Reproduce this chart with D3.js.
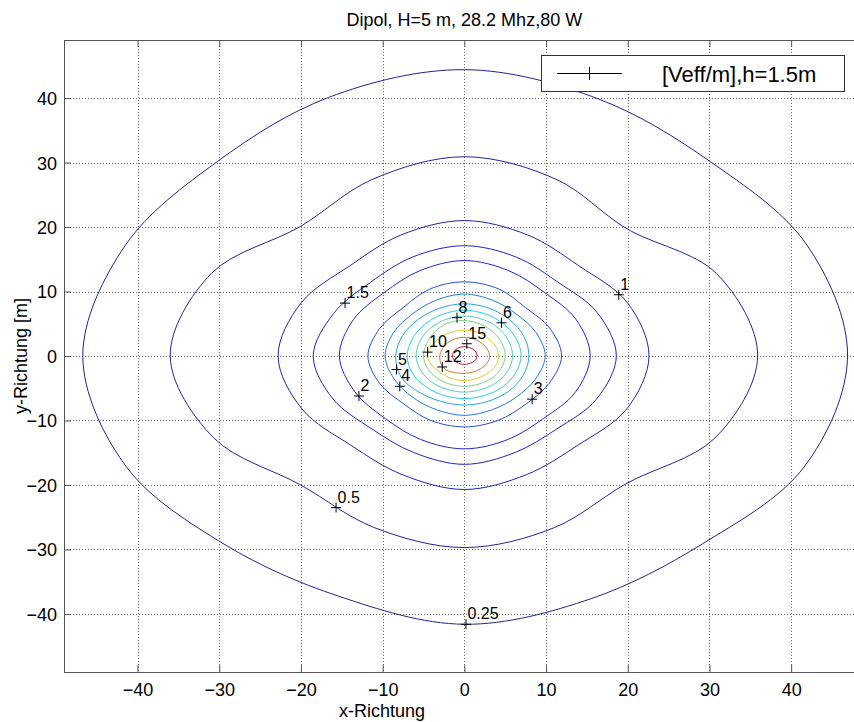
<!DOCTYPE html>
<html>
<head>
<meta charset="utf-8">
<script src="https://cdn.jsdelivr.net/npm/d3@7"></script>
<style>
  body { margin: 0; background: #fff; }
  svg text { font-family: "Liberation Sans", Arial, Helvetica, sans-serif; fill: #000; }
</style>
</head>
<body>
<div id="chart"></div>
<script>
const levels = [0.25, 0.5, 1, 1.5, 2, 3, 4, 5, 6, 7, 8, 10, 12, 15];
const angles = [0, 22.5, 45, 67.5, 90, 112.5, 135, 157.5, 180, 202.5, 225, 247.5, 270, 292.5, 315, 337.5];
const radii = [
  [46.9, 45.3, 42.6, 43.1, 44.4, 43.4, 42.7, 44.9, 46.7, 44.8, 41.4, 40.3, 41.6, 40.7, 41.2, 45.0],
  [35.9, 33.4, 28.0, 29.6, 30.9, 29.6, 28.4, 33.5, 36.0, 33.2, 28.3, 28.8, 29.7, 28.8, 28.0, 33.2],
  [22.6, 21.6, 19.8, 20.3, 21.0, 20.3, 19.8, 21.6, 22.8, 21.5, 19.6, 19.9, 20.7, 19.9, 19.6, 21.5],
  [18.6, 17.6, 16.2, 16.6, 17.1, 16.6, 16.2, 17.3, 18.5, 17.4, 16.0, 16.2, 16.8, 16.2, 16.0, 17.5],
  [15.4, 14.8, 13.9, 14.3, 14.8, 14.3, 13.9, 14.7, 15.3, 14.5, 13.7, 14.0, 14.4, 14.0, 13.7, 14.7],
  [11.9, 11.3, 10.6, 11.2, 11.5, 11.2, 10.6, 11.2, 11.8, 11.2, 10.5, 10.8, 11.0, 10.8, 10.6, 11.2],
  [9.9, 9.5, 9.1, 9.3, 9.6, 9.3, 9.1, 9.4, 9.7, 9.3, 9.0, 9.0, 9.2, 9.0, 9.0, 9.4],
  [7.9, 7.9, 7.9, 8.0, 8.1, 8.0, 8.0, 8.2, 8.4, 8.4, 7.9, 7.6, 7.6, 7.6, 7.7, 7.8],
  [6.95, 6.9, 6.9, 7.0, 7.1, 7.0, 6.9, 6.9, 7.0, 6.9, 6.7, 6.6, 6.6, 6.6, 6.7, 6.8],
  [5.9, 5.9, 6.0, 6.1, 6.2, 6.1, 6.0, 5.9, 5.9, 5.8, 5.7, 5.6, 5.6, 5.6, 5.7, 5.8],
  [5.0, 5.0, 5.1, 5.3, 5.5, 5.5, 5.2, 5.0, 5.0, 4.9, 4.8, 4.7, 4.7, 4.7, 4.8, 4.9],
  [4.2, 4.1, 4.0, 4.0, 4.0, 4.0, 4.1, 4.3, 4.5, 4.2, 3.9, 3.8, 3.8, 3.8, 3.9, 4.1],
  [3.1, 3.0, 2.9, 2.9, 2.9, 2.9, 2.9, 2.9, 3.0, 3.1, 3.1, 2.8, 2.7, 2.7, 2.8, 3.0],
  [1.55, 1.55, 1.5, 1.45, 1.45, 1.45, 1.45, 1.45, 1.45, 1.4, 1.35, 1.3, 1.3, 1.3, 1.4, 1.5]
];

// clabel markers
const labelText = ["0.25", "0.5", "1", "1.5", "2", "3", "4", "5", "6", "8", "10", "12", "15"];
const labelX = [0.2, -15.7, 18.9, -14.6, -12.9, 8.3, -7.9, -8.3, 4.55, -0.9, -4.5, -2.7, 0.3];
const labelY = [-41.6, -23.5, 9.5, 8.2, -6.2, -6.7, -4.7, -2.1, 5.15, 5.95, 0.6, -1.7, 1.9];

const xTicks = [-40, -30, -20, -10, 0, 10, 20, 30, 40];
const yTicks = [-40, -30, -20, -10, 0, 10, 20, 30, 40];

const width = 854, height = 722;
const plot = { left: 64, top: 40, right: 864.7, bottom: 672 };

const svg = d3.select("#chart").append("svg")
  .attr("width", width)
  .attr("height", height);

const x = d3.scaleLinear().domain([-49, 49]).range([plot.left, plot.right]);
const y = d3.scaleLinear().domain([-49, 49]).range([plot.bottom, plot.top]);

// jet colormap, toned down a little like the printed lines
const jet = d3.scaleLinear()
  .domain([0, 0.125, 0.375, 0.625, 0.875, 1].map(t => t * 16))
  .range(["#000080", "#0000ff", "#00ffff", "#ffff00", "#ff0000", "#800000"]);
const color = v => d3.interpolateRgb(jet(v), "#707090")(0.3);

svg.append("clipPath").attr("id", "clip")
  .append("rect")
  .attr("x", plot.left).attr("y", plot.top)
  .attr("width", plot.right - plot.left).attr("height", plot.bottom - plot.top);

// grid
const grid = svg.append("g")
  .attr("stroke", "#666")
  .attr("stroke-width", 1)
  .attr("stroke-dasharray", "1,2");
grid.selectAll(".gx").data(xTicks).enter().append("line")
  .attr("x1", d => Math.round(x(d)) + 0.5).attr("x2", d => Math.round(x(d)) + 0.5)
  .attr("y1", plot.top).attr("y2", plot.bottom);
grid.selectAll(".gy").data(yTicks).enter().append("line")
  .attr("y1", d => Math.round(y(d)) + 0.5).attr("y2", d => Math.round(y(d)) + 0.5)
  .attr("x1", plot.left).attr("x2", plot.right);

// contours
const line = d3.line().curve(d3.curveCatmullRomClosed.alpha(0.5));
svg.append("g").attr("clip-path", "url(#clip)")
  .selectAll("path")
  .data(levels)
  .enter()
  .append("path")
  .attr("fill", "none")
  .attr("stroke", d => color(d))
  .attr("stroke-width", 1)
  .attr("d", (d, i) => line(angles.map((a, j) => {
    const t = a * Math.PI / 180;
    return [x(radii[i][j] * Math.cos(t)), y(radii[i][j] * Math.sin(t))];
  })));

// axes box with inward ticks
const frame = svg.append("g").attr("stroke", "#555").attr("stroke-width", 1);
frame.append("line").attr("x1", plot.left + 0.5).attr("x2", plot.left + 0.5).attr("y1", plot.top).attr("y2", plot.bottom);
frame.append("line").attr("x1", plot.left).attr("x2", plot.right).attr("y1", plot.bottom + 0.5).attr("y2", plot.bottom + 0.5);
frame.append("line").attr("x1", plot.left).attr("x2", plot.right).attr("y1", plot.top + 0.5).attr("y2", plot.top + 0.5);

const xAxis = svg.append("g")
  .attr("transform", `translate(0,${plot.bottom})`)
  .call(d3.axisBottom(x).tickValues(xTicks).tickSizeInner(-7).tickSizeOuter(0).tickPadding(11));
const xAxisTop = svg.append("g")
  .attr("transform", `translate(0,${plot.top})`)
  .call(d3.axisTop(x).tickValues(xTicks).tickSizeInner(-7).tickSizeOuter(0).tickFormat(""));
const yAxis = svg.append("g")
  .attr("transform", `translate(${plot.left},0)`)
  .call(d3.axisLeft(y).tickValues(yTicks).tickSizeInner(-7).tickSizeOuter(0).tickPadding(7));

[xAxis, xAxisTop, yAxis].forEach(g => {
  g.select(".domain").remove();
  g.selectAll(".tick line").attr("stroke", "#555");
  g.selectAll("text").style("font-size", "18px").attr("fill", "#000");
});
yAxis.selectAll(".tick text").attr("dy", "0.36em");
xAxis.selectAll(".tick text").attr("dy", "0.71em");

// contour labels
const marks = svg.append("g");
labelText.forEach((t, i) => {
  const mx = x(labelX[i]), my = y(labelY[i]);
  marks.append("path")
    .attr("d", `M${mx - 5},${my}H${mx + 5}M${mx},${my - 5}V${my + 5}`)
    .attr("stroke", "#000").attr("stroke-width", 1);
  marks.append("text")
    .attr("x", mx + 1.5).attr("y", my - 5)
    .style("font-size", "16px")
    .text(t);
});

// title and axis labels
svg.append("text")
  .attr("x", x(0)).attr("y", 26)
  .attr("text-anchor", "middle")
  .style("font-size", "18px")
  .text("Dipol, H=5 m, 28.2 Mhz,80 W");

svg.append("text")
  .attr("x", 382).attr("y", 717)
  .attr("text-anchor", "middle")
  .style("font-size", "18px")
  .text("x-Richtung");

svg.append("text")
  .attr("transform", `translate(27,${y(0)}) rotate(-90)`)
  .attr("text-anchor", "middle")
  .style("font-size", "18px")
  .text("y-Richtung [m]");

// legend
const legend = svg.append("g");
legend.append("rect")
  .attr("x", 541.5).attr("y", 55.5)
  .attr("width", 303).attr("height", 36)
  .attr("fill", "#fff").attr("stroke", "#333").attr("stroke-width", 1);
legend.append("line")
  .attr("x1", 557).attr("x2", 622).attr("y1", 73.5).attr("y2", 73.5)
  .attr("stroke", "#000");
legend.append("line")
  .attr("x1", 589.5).attr("x2", 589.5).attr("y1", 67).attr("y2", 80)
  .attr("stroke", "#000");
legend.append("text")
  .attr("x", 662).attr("y", 82)
  .style("font-size", "22px")
  .text("[Veff/m],h=1.5m");
</script>
</body>
</html>
